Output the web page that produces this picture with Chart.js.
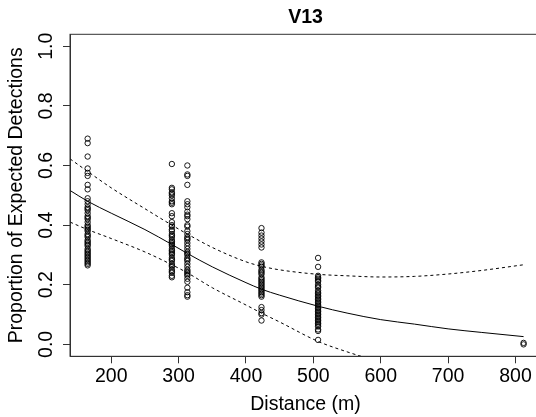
<!DOCTYPE html>
<html>
<head>
<meta charset="utf-8">
<title>V13</title>
<script src="https://cdn.jsdelivr.net/npm/chart.js@4.4.1/dist/chart.umd.min.js"></script>
<style>
  html, body { margin: 0; padding: 0; background: #fff; overflow: hidden; }
  #chart { display: block; }
</style>
</head>
<body>
<canvas id="chart" width="546" height="417"></canvas>
<script>
// Observed proportions at each receiver distance (m)
const propAt165 = [0.69, 0.675, 0.63, 0.59, 0.575, 0.565, 0.535, 0.52, 0.49, 0.48, 0.47, 0.46, 0.455, 0.45, 0.44, 0.43, 0.425, 0.42, 0.41, 0.40, 0.395, 0.39, 0.385, 0.38, 0.37, 0.365, 0.36, 0.35, 0.345, 0.34, 0.335, 0.33, 0.32, 0.315, 0.31, 0.305, 0.30, 0.295, 0.29, 0.285, 0.28, 0.275, 0.27, 0.265];
const propAt290 = [0.605, 0.525, 0.52, 0.51, 0.505, 0.50, 0.49, 0.48, 0.475, 0.47, 0.44, 0.43, 0.41, 0.40, 0.395, 0.385, 0.38, 0.37, 0.365, 0.36, 0.35, 0.345, 0.34, 0.335, 0.33, 0.32, 0.315, 0.31, 0.305, 0.30, 0.29, 0.285, 0.28, 0.27, 0.265, 0.26, 0.25, 0.245, 0.24, 0.23, 0.225];
const propAt313 = [0.60, 0.57, 0.565, 0.535, 0.48, 0.47, 0.46, 0.445, 0.435, 0.43, 0.42, 0.40, 0.395, 0.38, 0.37, 0.36, 0.355, 0.35, 0.34, 0.33, 0.32, 0.31, 0.305, 0.30, 0.29, 0.285, 0.28, 0.27, 0.26, 0.25, 0.245, 0.24, 0.235, 0.23, 0.22, 0.21, 0.19, 0.175, 0.165, 0.16];
const propAt423 = [0.39, 0.375, 0.365, 0.355, 0.345, 0.335, 0.325, 0.275, 0.27, 0.265, 0.26, 0.25, 0.245, 0.24, 0.235, 0.225, 0.22, 0.215, 0.21, 0.205, 0.20, 0.195, 0.19, 0.185, 0.18, 0.175, 0.17, 0.165, 0.16, 0.125, 0.115, 0.105, 0.10, 0.08];
const propAt507 = [0.29, 0.26, 0.23, 0.225, 0.22, 0.215, 0.21, 0.20, 0.195, 0.19, 0.18, 0.175, 0.17, 0.165, 0.16, 0.155, 0.15, 0.145, 0.14, 0.135, 0.13, 0.125, 0.12, 0.115, 0.11, 0.105, 0.10, 0.095, 0.09, 0.085, 0.08, 0.075, 0.07, 0.065, 0.06, 0.05, 0.045, 0.015];
const propAt812 = [0.0, 0.005];

const distances = [165, 290, 313, 423, 507, 812];
const proportions = [propAt165, propAt290, propAt313, propAt423, propAt507, propAt812];

// Fitted curve and confidence band
const curveDist = [139, 165, 200, 250, 290, 313, 350, 400, 423, 450, 507, 550, 600, 650, 700, 750, 812];
const fitted    = [0.516, 0.48, 0.44, 0.385, 0.335, 0.305, 0.26, 0.207, 0.185, 0.165, 0.128, 0.105, 0.083, 0.068, 0.052, 0.040, 0.026];
const upperCI   = [0.622, 0.58, 0.525, 0.455, 0.40, 0.37, 0.325, 0.277, 0.262, 0.25, 0.235, 0.23, 0.226, 0.228, 0.236, 0.248, 0.267];
const lowerCI   = [0.41, 0.385, 0.355, 0.31, 0.267, 0.24, 0.19, 0.132, 0.105, 0.075, 0.01, -0.025, -0.06, null, null, null, null];

const xTicks = [200, 300, 400, 500, 600, 700, 800];
const yTicks = [0, 0.2, 0.4, 0.6, 0.8, 1.0];

const FONT = "'Liberation Sans', Arial, sans-serif";
const AXIS = '#333';

function toPoints(xs, ys) {
  const pts = [];
  xs.forEach(function(x, i) {
    if (ys[i] !== null) pts.push({ x: x, y: ys[i] });
  });
  return pts;
}

const observed = [];
distances.forEach(function(d, i) {
  proportions[i].forEach(function(p) {
    observed.push({ x: d, y: p });
  });
});

// draws the full box around the plot region, like R's bty="o"
const boxPlugin = {
  id: 'box',
  afterDraw(chart) {
    const a = chart.chartArea;
    const ctx = chart.ctx;
    ctx.save();
    ctx.strokeStyle = AXIS;
    ctx.lineWidth = 1;
    ctx.strokeRect(a.left, a.top, a.right - a.left, a.bottom - a.top);
    ctx.restore();
  }
};

const lineStyle = {
  type: 'line',
  showLine: true,
  pointRadius: 0,
  borderColor: '#000',
  borderWidth: 1,
  fill: false,
  cubicInterpolationMode: 'monotone'
};

new Chart(document.getElementById('chart'), {
  type: 'scatter',
  data: {
    datasets: [
      {
        label: 'observed',
        data: observed,
        pointStyle: 'circle',
        pointRadius: 2.7,
        pointBorderWidth: 0.9,
        pointBorderColor: '#000',
        pointBackgroundColor: 'rgba(0,0,0,0)',
        showLine: false
      },
      Object.assign({ label: 'fitted', data: toPoints(curveDist, fitted) }, lineStyle),
      Object.assign({ label: 'upper', data: toPoints(curveDist, upperCI), borderDash: [3, 3] }, lineStyle),
      Object.assign({ label: 'lower', data: toPoints(curveDist, lowerCI), borderDash: [3, 3] }, lineStyle)
    ]
  },
  options: {
    responsive: false,
    animation: false,
    events: [],
    layout: { padding: { left: 0, right: 2, top: 0, bottom: 0 } },
    plugins: {
      legend: { display: false },
      tooltip: { enabled: false },
      title: {
        display: true,
        text: 'V13',
        fullSize: false,
        color: '#000',
        font: { family: FONT, size: 19.5, weight: 'bold' },
        padding: { top: 5.6, bottom: 5.3 }
      }
    },
    scales: {
      x: {
        type: 'linear',
        min: 138.8,
        max: 838,
        afterBuildTicks: function(axis) {
          axis.ticks = xTicks.map(function(v) { return { value: v }; });
        },
        afterFit: function(scale) { scale.height = 60.7; },
        ticks: {
          color: '#000',
          font: { family: FONT, size: 19.5 },
          padding: 2,
          maxRotation: 0,
          callback: function(v) { return String(v); }
        },
        grid: { drawOnChartArea: false, drawTicks: true, tickLength: 7, color: AXIS },
        border: { display: true, color: AXIS },
        title: {
          display: true,
          text: 'Distance (m)',
          color: '#000',
          font: { family: FONT, size: 19.5 },
          padding: { top: 0, bottom: 0.3 }
        }
      },
      y: {
        min: -0.04,
        max: 1.04,
        afterBuildTicks: function(axis) {
          axis.ticks = yTicks.map(function(v) { return { value: v }; });
        },
        afterFit: function(scale) { scale.width = 70; },
        ticks: {
          color: '#000',
          font: { family: FONT, size: 19.5 },
          minRotation: 90,
          maxRotation: 90,
          crossAlign: 'center',
          padding: 2.75,
          callback: function(v) { return v.toFixed(1); }
        },
        grid: { drawOnChartArea: false, drawTicks: true, tickLength: 7, color: AXIS },
        border: { display: true, color: AXIS },
        title: {
          display: true,
          text: 'Proportion of Expected Detections',
          color: '#000',
          font: { family: FONT, size: 19.5 },
          padding: { top: 5.3, bottom: 0 }
        }
      }
    }
  },
  plugins: [boxPlugin]
});
</script>
</body>
</html>
